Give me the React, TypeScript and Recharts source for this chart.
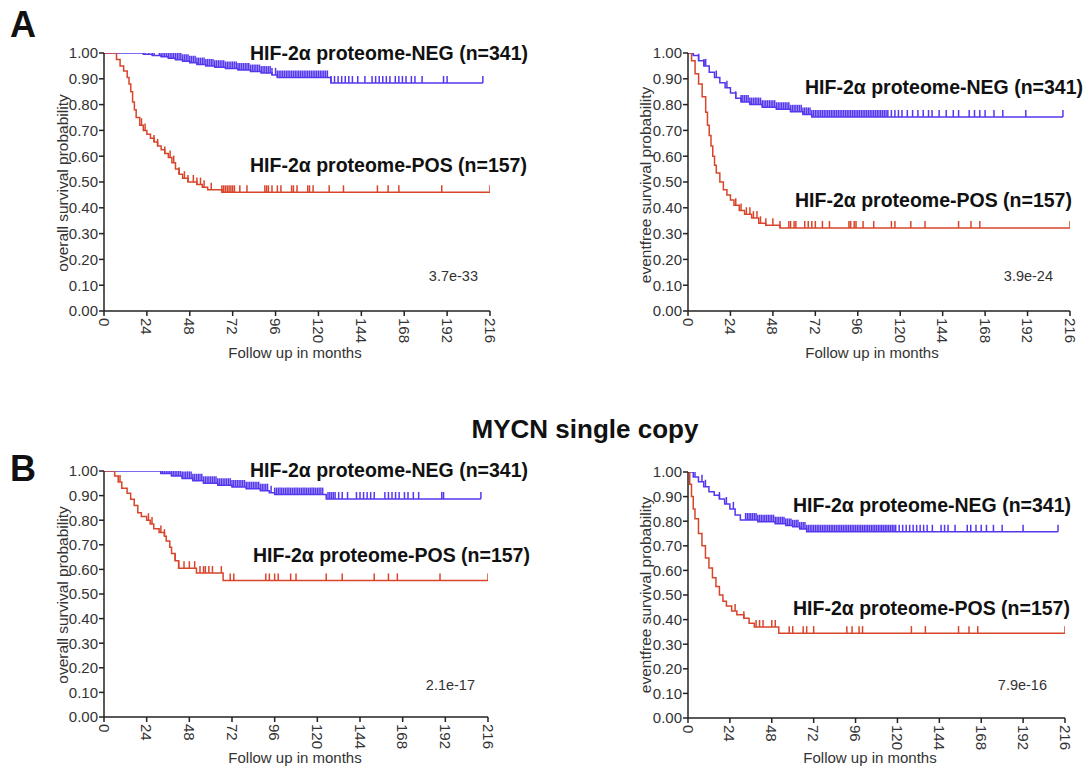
import React from 'react';
import { ComposedChart, Line, Scatter, XAxis, YAxis } from 'recharts';

type Pt = [number, number];

const BLUE = '#5438EE';
const RED = '#D8452B';
const FONT = '"Liberation Sans", Arial, sans-serif';

const xTicks = [0, 24, 48, 72, 96, 120, 144, 168, 192, 216];
const yTicks = [0, 0.1, 0.2, 0.3, 0.4, 0.5, 0.6, 0.7, 0.8, 0.9, 1.0];

// Panel A left: overall survival
const osAllNeg: Pt[] = [[0,1],[18,1],[22,0.995],[27,0.99],[32,0.985],[36,0.98],[40,0.974],[44,0.968],[48,0.962],[52,0.955],[57,0.95],[62,0.945],[68,0.94],[75,0.934],[82,0.928],[88,0.922],[94,0.915],[97,0.905],[127,0.884],[212,0.884]];
const osAllNegCens = [5,8,20,21,23,25,27,28,31,32,33,34,35,36,37,38,39,40,41,42,43,44,45,46,47,48,49,50,51,52,53,54,55,56,57,58,59,60,61,62,63,64,65,66,67,68,69,70,71,72,73,74,75,76,77,78,79,80,81,82,83,84,85,86,87,88,89,90,91,92,93,94,96,97,98,99,100,101,102,103,104,105,106,107,108,109,110,111,112,113,114,115,116,117,118,119,120,121,122,123,124,125,127,129,131,133,135,137,139,142,146,150,152,154,156,158,160,163,165,167,169,172,174,178,190,192,212];
const osAllPos: Pt[] = [[0,1],[5,1],[7,0.975],[9,0.95],[11,0.93],[13,0.905],[14,0.88],[15,0.85],[16,0.81],[17,0.78],[18,0.75],[20,0.72],[22,0.7],[24,0.685],[26,0.67],[28,0.655],[30,0.64],[32,0.625],[34,0.61],[36,0.595],[38,0.575],[40,0.55],[42,0.53],[44,0.515],[47,0.5],[52,0.49],[55,0.48],[58,0.47],[66,0.46],[216,0.46]];
const osAllPosCens = [21,23,28,30,34,37,39,42,45,47,50,52,54,56,60,66,67,68,69,70,71,72,73,76,80,90,91,92,94,97,99,105,106,108,114,115,117,126,134,153,159,165,189,216];

// Panel A right: eventfree survival
const efsAllNeg: Pt[] = [[0,1],[3,0.99],[6,0.97],[9,0.95],[12,0.925],[15,0.905],[18,0.885],[21,0.865],[24,0.845],[27,0.825],[30,0.81],[35,0.8],[42,0.79],[50,0.782],[58,0.772],[65,0.762],[70,0.752],[212,0.752]];
const efsAllNegCens = [3,6,9,10,16,22,27,30,31,32,33,34,35,36,37,38,39,40,41,42,43,44,45,46,47,48,49,50,51,52,53,54,55,56,57,58,59,60,61,62,63,64,65,66,67,68,69,70,71,72,73,74,75,76,77,78,79,80,81,82,83,84,85,86,87,88,89,90,91,92,93,94,95,96,97,98,99,100,101,102,103,104,105,106,107,108,109,110,111,112,113,115,117,119,121,124,127,130,133,136,138,142,146,150,153,159,162,165,168,173,178,191,212];
const efsAllPos: Pt[] = [[0,1],[2,0.97],[4,0.92],[6,0.88],[8,0.83],[10,0.77],[11,0.72],[12,0.68],[13,0.64],[14,0.6],[15,0.565],[16,0.535],[18,0.5],[20,0.47],[22,0.45],[24,0.43],[26,0.41],[29,0.39],[32,0.375],[36,0.36],[40,0.34],[44,0.332],[52,0.322],[216,0.322]];
const efsAllPosCens = [27,30,33,35,37,39,41,44,48,52,57,58,60,61,66,68,70,72,76,80,91,92,94,95,99,105,115,117,126,134,153,160,165,216];

// Panel B left: overall survival, MYCN single copy
const osScNeg: Pt[] = [[0,1],[28,1],[32,0.99],[38,0.98],[44,0.97],[50,0.96],[56,0.95],[64,0.942],[72,0.935],[80,0.928],[88,0.92],[93,0.912],[96,0.904],[125,0.886],[212,0.886]];
const osScNegCens = [6,9,19,20,22,24,26,29,32,33,34,35,36,37,38,39,40,41,42,43,44,45,46,47,48,49,50,51,52,53,54,55,56,57,58,59,60,61,62,63,64,65,66,67,68,69,70,71,72,73,74,75,76,77,78,79,80,81,82,83,84,85,86,87,88,89,90,91,92,94,96,97,98,99,100,101,102,103,104,105,106,107,108,109,110,111,112,113,114,115,116,117,118,119,120,121,122,123,126,127,128,129,130,132,134,137,142,144,146,148,150,152,158,160,162,164,166,169,171,174,177,190,191,212];
const osScPos: Pt[] = [[0,1],[5,1],[6,0.98],[8,0.955],[10,0.93],[13,0.91],[15,0.885],[17,0.86],[19,0.83],[21,0.815],[24,0.8],[26,0.785],[28,0.765],[31,0.75],[34,0.735],[35,0.715],[37,0.69],[38,0.665],[40,0.635],[42,0.605],[52,0.585],[67,0.555],[216,0.555]];
const osScPosCens = [9,25,27,32,34,40,42,45,48,51,54,56,57,59,61,66,71,73,91,93,96,98,105,108,125,134,152,160,165,189,216];

// Panel B right: eventfree survival, MYCN single copy
const efsScNeg: Pt[] = [[0,1],[3,0.98],[6,0.96],[9,0.94],[12,0.92],[15,0.905],[18,0.89],[21,0.87],[24,0.85],[27,0.825],[30,0.805],[40,0.798],[50,0.79],[56,0.783],[60,0.777],[64,0.768],[68,0.757],[212,0.757]];
const efsScNegCens = [4,8,10,18,22,26,33,34,35,36,37,38,39,40,41,42,43,44,45,46,47,48,49,50,51,52,53,54,55,56,57,58,59,60,61,62,63,64,65,66,67,68,69,70,71,72,73,74,75,76,77,78,79,80,81,82,83,84,85,86,87,88,89,90,91,92,93,94,95,96,97,98,99,100,101,102,103,104,105,106,107,108,109,110,111,112,113,114,115,116,117,118,119,121,123,125,127,129,131,133,135,137,140,145,147,149,153,160,162,165,168,171,175,180,192,212];
const efsScPos: Pt[] = [[0,1],[1,0.95],[2,0.9],[3,0.85],[4,0.81],[6,0.75],[8,0.7],[10,0.65],[12,0.61],[14,0.57],[16,0.535],[18,0.5],[20,0.475],[22,0.455],[25,0.435],[28,0.42],[32,0.405],[35,0.385],[38,0.37],[52,0.345],[216,0.345]];
const efsScPosCens = [27,32,39,41,43,48,50,58,60,66,68,72,91,94,98,100,128,136,155,161,166,216];

const toRows = (pts: Pt[]) => pts.map(([t, s]) => ({ t, s }));
const survAt = (pts: Pt[], t: number) => {
  let v = pts[0][1];
  for (const [pt, ps] of pts) {
    if (pt <= t) v = ps;
    else break;
  }
  return v;
};
const censRows = (pts: Pt[], times: number[]) => times.map((t) => ({ t, s: survAt(pts, t) }));

const censorShape = (color: string) => (props: any) => {
  const { cx, cy } = props;
  if (cx == null || cy == null) return <g />;
  return <line x1={cx} x2={cx} y1={cy} y2={cy - 7} stroke={color} strokeWidth={1.5} />;
};

const XTick = (props: any) => {
  const { x, y, payload } = props;
  return (
    <text
      x={x}
      y={y}
      transform={`rotate(90, ${x}, ${y})`}
      textAnchor="start"
      dominantBaseline="central"
      fontSize={15}
      fontFamily={FONT}
      fill="#333"
    >
      {payload.value}
    </text>
  );
};

type Box = { x: number; y: number; w: number; h: number };
type Plot = { left: number; right: number; top: number; bottom: number };

function Panel(props: {
  box: Box;
  plot: Plot;
  neg: Pt[];
  negC: number[];
  pos: Pt[];
  posC: number[];
}) {
  const { box, plot, neg, negC, pos, posC } = props;
  return (
    <div style={{ position: 'absolute', left: box.x, top: box.y, width: box.w, height: box.h }}>
      <ComposedChart
        width={box.w}
        height={box.h}
        margin={{ top: plot.top - box.y, right: box.x + box.w - plot.right, bottom: 0, left: 0 }}
      >
        <XAxis
          type="number"
          dataKey="t"
          domain={[0, 216]}
          ticks={xTicks}
          interval={0}
          allowDataOverflow
          height={box.y + box.h - plot.bottom}
          tickSize={5}
          tickMargin={2}
          tick={(p: any) => <XTick {...p} />}
          axisLine={{ stroke: '#222', strokeWidth: 1.5 }}
          tickLine={{ stroke: '#222', strokeWidth: 1.5 }}
        />
        <YAxis
          type="number"
          dataKey="s"
          domain={[0, 1]}
          ticks={yTicks}
          interval={0}
          allowDataOverflow
          width={plot.left - box.x}
          tickSize={5}
          tickMargin={1}
          tickFormatter={(v: number) => v.toFixed(2)}
          tick={{ fontSize: 15, fill: '#333', fontFamily: FONT }}
          axisLine={{ stroke: '#222', strokeWidth: 1.5 }}
          tickLine={{ stroke: '#222', strokeWidth: 1.5 }}
        />
        <Line data={toRows(neg)} dataKey="s" type="stepAfter" stroke={BLUE} strokeWidth={1.5} dot={false} isAnimationActive={false} />
        <Line data={toRows(pos)} dataKey="s" type="stepAfter" stroke={RED} strokeWidth={1.5} dot={false} isAnimationActive={false} />
        <Scatter data={censRows(neg, negC)} dataKey="s" shape={censorShape(BLUE)} isAnimationActive={false} />
        <Scatter data={censRows(pos, posC)} dataKey="s" shape={censorShape(RED)} isAnimationActive={false} />
      </ComposedChart>
    </div>
  );
}

const NEG_LABEL = 'HIF-2α proteome-NEG (n=341)';
const POS_LABEL = 'HIF-2α proteome-POS (n=157)';

export default function App() {
  const bold = { fontFamily: FONT, fontWeight: 700, fill: '#111' } as const;
  const reg = { fontFamily: FONT, fill: '#333' } as const;
  const LF = 19.5;
  return (
    <div style={{ position: 'absolute', left: 0, top: 0, width: 1087, height: 772, background: '#fff', overflow: 'hidden' }}>
      <Panel box={{ x: 0, y: 0, w: 540, h: 345 }} plot={{ left: 104, right: 490, top: 53, bottom: 311 }} neg={osAllNeg} negC={osAllNegCens} pos={osAllPos} posC={osAllPosCens} />
      <Panel box={{ x: 560, y: 0, w: 527, h: 345 }} plot={{ left: 688, right: 1070, top: 53, bottom: 311 }} neg={efsAllNeg} negC={efsAllNegCens} pos={efsAllPos} posC={efsAllPosCens} />
      <Panel box={{ x: 0, y: 420, w: 540, h: 345 }} plot={{ left: 104, right: 488, top: 471, bottom: 717 }} neg={osScNeg} negC={osScNegCens} pos={osScPos} posC={osScPosCens} />
      <Panel box={{ x: 560, y: 420, w: 527, h: 345 }} plot={{ left: 688, right: 1065, top: 472, bottom: 718 }} neg={efsScNeg} negC={efsScNegCens} pos={efsScPos} posC={efsScPosCens} />
      <svg width={1087} height={772} style={{ position: 'absolute', left: 0, top: 0, pointerEvents: 'none' }}>
        <text x={10} y={37} fontSize={36} {...bold}>A</text>
        <text x={10} y={481} fontSize={36} {...bold}>B</text>
        <text x={585} y={438} fontSize={26} textAnchor="middle" {...bold}>MYCN single copy</text>

        <text x={250} y={53} fontSize={LF} dominantBaseline="central" {...bold}>{NEG_LABEL}</text>
        <text x={250} y={165} fontSize={LF} dominantBaseline="central" {...bold}>{POS_LABEL}</text>
        <text x={805} y={87} fontSize={LF} dominantBaseline="central" {...bold}>{NEG_LABEL}</text>
        <text x={795} y={200} fontSize={LF} dominantBaseline="central" {...bold}>{POS_LABEL}</text>
        <text x={250} y={470} fontSize={LF} dominantBaseline="central" {...bold}>{NEG_LABEL}</text>
        <text x={253} y={555} fontSize={LF} dominantBaseline="central" {...bold}>{POS_LABEL}</text>
        <text x={793} y={505} fontSize={LF} dominantBaseline="central" {...bold}>{NEG_LABEL}</text>
        <text x={793} y={608} fontSize={LF} dominantBaseline="central" {...bold}>{POS_LABEL}</text>

        <text x={478} y={276} fontSize={14.5} textAnchor="end" dominantBaseline="central" {...reg}>3.7e-33</text>
        <text x={1053} y={276} fontSize={14.5} textAnchor="end" dominantBaseline="central" {...reg}>3.9e-24</text>
        <text x={475} y={685} fontSize={14.5} textAnchor="end" dominantBaseline="central" {...reg}>2.1e-17</text>
        <text x={1047} y={685} fontSize={14.5} textAnchor="end" dominantBaseline="central" {...reg}>7.9e-16</text>

        <text x={295} y={352} fontSize={15} textAnchor="middle" dominantBaseline="central" {...reg}>Follow up in months</text>
        <text x={872} y={352} fontSize={15} textAnchor="middle" dominantBaseline="central" {...reg}>Follow up in months</text>
        <text x={295} y={757} fontSize={15} textAnchor="middle" dominantBaseline="central" {...reg}>Follow up in months</text>
        <text x={870} y={757} fontSize={15} textAnchor="middle" dominantBaseline="central" {...reg}>Follow up in months</text>

        <text x={62} y={183} fontSize={15.5} textAnchor="middle" dominantBaseline="central" transform="rotate(-90, 62, 183)" {...reg}>overall survival probability</text>
        <text x={645} y={185} fontSize={15.5} textAnchor="middle" dominantBaseline="central" transform="rotate(-90, 645, 185)" {...reg}>eventfree survival probability</text>
        <text x={62} y={595} fontSize={15.5} textAnchor="middle" dominantBaseline="central" transform="rotate(-90, 62, 595)" {...reg}>overall survival probability</text>
        <text x={645} y={595} fontSize={15.5} textAnchor="middle" dominantBaseline="central" transform="rotate(-90, 645, 595)" {...reg}>eventfree survival probability</text>
      </svg>
    </div>
  );
}
